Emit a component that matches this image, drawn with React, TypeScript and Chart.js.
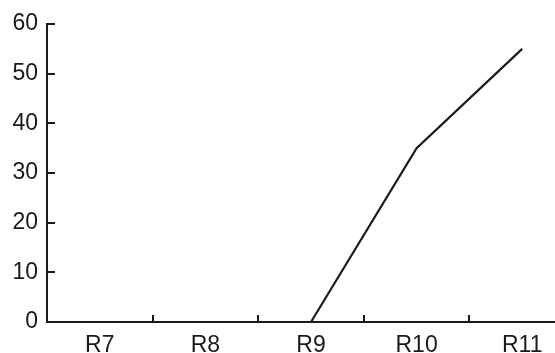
import React, { useEffect, useRef } from "react";
import { Chart, registerables } from "chart.js";

Chart.register(...registerables);

const categories = ["R7", "R8", "R9", "R10", "R11"];
const values = [0, 0, 0, 35, 55];
const yTicks = [0, 10, 20, 30, 40, 50, 60];

const INK = "#1a1a1a";
const FONT = "'Liberation Sans', Arial, sans-serif";

const innerTicks = {
  id: "innerTicks",
  afterDatasetsDraw(chart: any) {
    const { ctx, scales } = chart;
    const x = scales.x;
    const y = scales.y;
    ctx.save();
    ctx.strokeStyle = INK;
    ctx.lineWidth = 2;
    y.ticks.forEach((_t: any, i: number) => {
      const py = Math.round(y.getPixelForTick(i));
      ctx.beginPath();
      ctx.moveTo(y.right, py);
      ctx.lineTo(y.right + 8, py);
      ctx.stroke();
    });
    for (let i = 0; i < categories.length - 1; i++) {
      const px = Math.round((x.getPixelForTick(i) + x.getPixelForTick(i + 1)) / 2);
      ctx.beginPath();
      ctx.moveTo(px, x.top);
      ctx.lineTo(px, x.top - 7);
      ctx.stroke();
    }
    ctx.restore();
  },
};

export default function App() {
  const ref = useRef<HTMLCanvasElement | null>(null);
  useEffect(() => {
    if (!ref.current) return;
    const chart = new Chart(ref.current, {
      type: "line",
      data: {
        labels: categories,
        datasets: [
          {
            data: values,
            borderColor: INK,
            borderWidth: 2.2,
            pointRadius: 0,
            tension: 0,
            fill: false,
            clip: false,
          },
        ],
      },
      plugins: [innerTicks],
      options: {
        responsive: false,
        animation: false,
        devicePixelRatio: 1,
        layout: { padding: { top: 24, left: 0, right: 0, bottom: 0 } },
        plugins: { legend: { display: false }, tooltip: { enabled: false } },
        scales: {
          x: {
            offset: true,
            grid: { display: false, drawTicks: false, offset: true },
            border: { display: true, color: INK, width: 2 },
            ticks: { color: INK, font: { family: FONT, size: 23 }, padding: 10, maxRotation: 0 },
            afterFit: (s: any) => {
              s.height = 31;
            },
          },
          y: {
            min: 0,
            max: 60,
            afterBuildTicks: (s: any) => {
              s.ticks = yTicks.map((v) => ({ value: v }));
            },
            grid: { display: false, drawTicks: false },
            border: { display: true, color: INK, width: 2 },
            ticks: { color: INK, font: { family: FONT, size: 23 }, padding: 9 },
            afterFit: (s: any) => {
              s.width = 47;
            },
          },
        },
      },
    });
    return () => chart.destroy();
  }, []);
  return (
    <div style={{ position: "fixed", left: 0, top: 0, width: 555, height: 353, overflow: "hidden", background: "#fff" }}>
      <canvas ref={ref} width={575} height={353} style={{ width: 575, height: 353, display: "block" }} />
    </div>
  );
}
